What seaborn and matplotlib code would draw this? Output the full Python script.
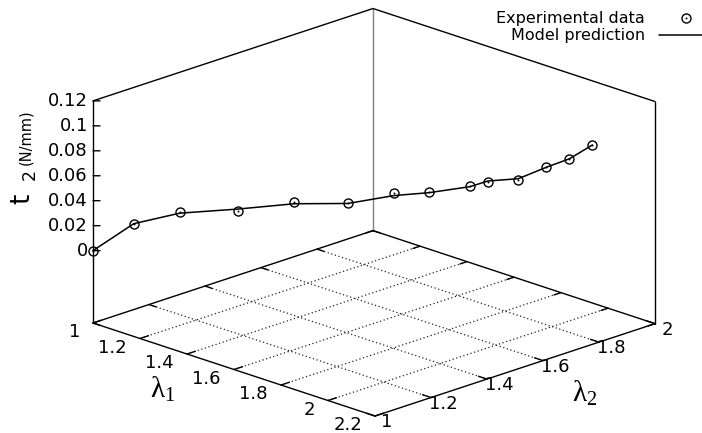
import numpy as np
import matplotlib
matplotlib.use("Agg")
import matplotlib.pyplot as plt
from matplotlib.lines import Line2D
from matplotlib.legend_handler import HandlerTuple
from mpl_toolkits.mplot3d import proj3d
import seaborn as sns

# Biaxial stretch path (lambda1, lambda2) and the tension t2 along it
lambda1 = [1.00, 1.09, 1.19, 1.32, 1.44, 1.56, 1.66, 1.74, 1.83, 1.87, 1.94, 2.00, 2.05, 2.10]
lambda2 = [1.00, 1.07, 1.15, 1.25, 1.35, 1.44, 1.52, 1.58, 1.65, 1.68, 1.73, 1.78, 1.82, 1.86]
t2_exp = [0.000, 0.022, 0.032, 0.033, 0.040, 0.040, 0.049, 0.050, 0.055, 0.059, 0.061, 0.071, 0.078, 0.089]
t2_model = [0.000, 0.022, 0.0307, 0.0347, 0.039, 0.040, 0.0466, 0.0495, 0.0547, 0.0595, 0.062, 0.0712, 0.0781, 0.0893]

lambda1_ticks = [1.0, 1.2, 1.4, 1.6, 1.8, 2.0, 2.2]
lambda1_ticklabels = ["1", "1.2", "1.4", "1.6", "1.8", "2", "2.2"]
lambda2_ticks = [1.0, 1.2, 1.4, 1.6, 1.8, 2.0]
lambda2_ticklabels = ["1", "1.2", "1.4", "1.6", "1.8", "2"]
t2_ticks = [0.0, 0.02, 0.04, 0.06, 0.08, 0.10, 0.12]
t2_ticklabels = ["0", "0.02", "0.04", "0.06", "0.08", "0.1", "0.12"]
legend_labels = ["Experimental data", "Model prediction"]

sns.set_style("white")
plt.rcParams["font.family"] = ["DejaVu Sans"]
plt.rcParams["text.color"] = "black"
plt.rcParams["mathtext.fontset"] = "custom"
plt.rcParams["mathtext.rm"] = "Liberation Serif"
plt.rcParams["mathtext.it"] = "Liberation Serif"

W, H, DPI = 702, 433, 100
fig = plt.figure(figsize=(W / DPI, H / DPI), dpi=DPI)
ax = fig.add_axes([(W - H) / 2 / W, 0.0, H / W, 1.0], projection="3d", proj_type="ortho")
ax.set_axis_off()
ax.computed_zorder = False
ax.view_init(elev=19.26, azim=-45)
ax.set_box_aspect((1.0, 0.993, 0.59))

x_lo, x_hi = lambda1_ticks[0], lambda1_ticks[-1]
y_lo, y_hi = lambda2_ticks[0], lambda2_ticks[-1]
z_top = t2_ticks[-1]
z_base = -0.058  # base plane sits below t2 = 0
ax.set_xlim(x_lo, x_hi)
ax.set_ylim(y_lo, y_hi)
ax.set_zlim(z_base, z_top)


def seg(p, q, **kw):
    ax.plot([p[0], q[0]], [p[1], q[1]], [p[2], q[2]], **kw)


edge = dict(color="black", lw=1.0, zorder=3)
grid = dict(color="0.15", lw=0.9, ls=(0, (1, 2)), zorder=2)

# base grid
for v in lambda1_ticks[1:-1]:
    seg((v, y_lo, z_base), (v, y_hi, z_base), **grid)
for v in lambda2_ticks[1:-1]:
    seg((x_lo, v, z_base), (x_hi, v, z_base), **grid)

# box edges
seg((x_lo, y_hi, z_base), (x_lo, y_hi, z_top), color="0.5", lw=1.0, zorder=1)
seg((x_lo, y_lo, z_base), (x_hi, y_lo, z_base), **edge)
seg((x_hi, y_lo, z_base), (x_hi, y_hi, z_base), **edge)
seg((x_hi, y_hi, z_base), (x_lo, y_hi, z_base), **edge)
seg((x_lo, y_hi, z_base), (x_lo, y_lo, z_base), **edge)
seg((x_lo, y_lo, z_base), (x_lo, y_lo, z_top), **edge)
seg((x_hi, y_hi, z_base), (x_hi, y_hi, z_top), **edge)
seg((x_lo, y_lo, z_top), (x_lo, y_hi, z_top), **edge)
seg((x_lo, y_hi, z_top), (x_hi, y_hi, z_top), **edge)

# tick marks
for v in lambda1_ticks:
    seg((v, y_lo, z_base), (v, y_lo + 0.03, z_base), **edge)
    seg((v, y_hi, z_base), (v, y_hi - 0.025, z_base), **edge)
for v in lambda2_ticks:
    seg((x_lo, v, z_base), (x_lo + 0.03, v, z_base), **edge)
    seg((x_hi, v, z_base), (x_hi - 0.036, v, z_base), **edge)
for v in t2_ticks:
    seg((x_lo, y_lo, v), (x_lo + 0.015, y_lo + 0.0125, v), **edge)

# data
ax.plot(lambda1, lambda2, t2_model, color="black", lw=1.1, zorder=5)
ax.plot(lambda1, lambda2, t2_exp, ls="none", marker="o", ms=6.5, mfc="none",
        mec="black", mew=1.0, zorder=6)
ax.plot(lambda1, lambda2, t2_exp, ls="none", marker="o", ms=1.4, mfc="black",
        mew=0, zorder=6)

# place the box: left and right base corners at fixed pixel positions
fig.canvas.draw()


def to_pixels(x, y, z):
    px, py, _ = proj3d.proj_transform(x, y, z, ax.get_proj())
    return np.asarray(ax.transData.transform((px, py)), dtype=float)


bb = ax.get_position().transformed(fig.transFigure)
p0 = np.array([bb.x0, bb.y0])
size = np.array([bb.width, bb.height])
u_left = (to_pixels(x_lo, y_lo, z_base) - p0) / size
u_right = (to_pixels(x_hi, y_hi, z_base) - p0) / size
left_px = np.array([93.0, H - 323.0])
right_px = np.array([655.0, H - 324.0])
side = (right_px[0] - left_px[0]) / (u_right[0] - u_left[0])
origin = left_px - side * u_left
ax.set_position([origin[0] / W, origin[1] / H, side / W, side / H])
fig.canvas.draw()


def place(x, y, z, s, dx, dy, **kw):
    """Text anchored at a projected 3D point, shifted by (dx, dy) pixels."""
    px, py = to_pixels(x, y, z)
    fig.text((px + dx) / W, (py + dy) / H, s, **kw)


tick_fs = 13
for v, s in zip(t2_ticks, t2_ticklabels):
    place(x_lo, y_lo, v, s, -5, 0, ha="right", va="center", fontsize=tick_fs)
for v, s in zip(lambda1_ticks, lambda1_ticklabels):
    place(v, y_lo, z_base, s, -13, -9, ha="right", va="center", fontsize=tick_fs)
for v, s in zip(lambda2_ticks, lambda2_ticklabels):
    place(x_hi, v, z_base, s, 12, -6, ha="center", va="center", fontsize=tick_fs)

place(1.3, y_lo, z_base, r"$\lambda_1$", -1, -43, ha="center", va="center", fontsize=21)
place(x_hi, 1.75, z_base, r"$\lambda_2$", 0, -47, ha="center", va="center", fontsize=21)

# axis title for t2
fig.text(22 / W, 1 - 199 / H, "t", rotation=90, ha="center", va="center", fontsize=19)
fig.text(30 / W, 1 - 174 / H, "2", rotation=90, ha="center", va="center", fontsize=12.5)
fig.text(26 / W, 1 - 137 / H, "(N/mm)", rotation=90, ha="center", va="center", fontsize=10.5)

# legend
h_circle = Line2D([], [], ls="none", marker="o", ms=6.5, mfc="none", mec="black", mew=1.0)
h_dot = Line2D([], [], ls="none", marker="o", ms=1.4, mfc="black", mew=0)
h_line = Line2D([], [], color="black", lw=1.1)
fig.legend([(h_circle, h_dot), h_line], legend_labels,
           handler_map={tuple: HandlerTuple(ndivide=1, pad=0)},
           loc="upper right", bbox_to_anchor=(712 / W, 1 - 11.5 / H),
           frameon=False, markerfirst=False, fontsize=11.5, handlelength=3.3,
           handletextpad=0.9, labelspacing=0.12, borderpad=0, borderaxespad=0)

fig.savefig("out.png", dpi=DPI)
